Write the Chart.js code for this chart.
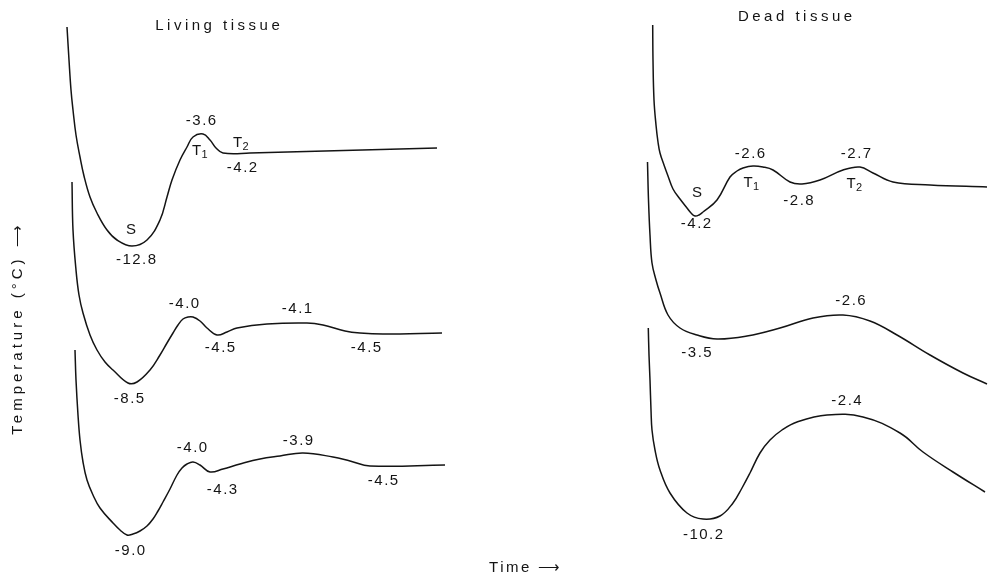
<!DOCTYPE html>
<html>
<head>
<meta charset="utf-8">
<script src="https://cdn.jsdelivr.net/npm/chart.js@4.4.0/dist/chart.umd.min.js"></script>
<style>
  html, body { margin: 0; padding: 0; background: #fff; }
  #wrap { position: relative; width: 988px; height: 577px; }
</style>
</head>
<body>
<div id="wrap"><canvas id="coolingChart"></canvas></div>
<script>
// Cooling curves, living vs dead tissue. Time and level in arbitrary chart units
// (curves are stacked, so the level is only a relative reading).

// Living tissue, top curve
const livingTime1 = [6.7, 6.9, 7.1, 7.3, 7.6, 8.0, 8.4, 9.0, 9.7, 10.7, 11.7, 13.2, 14.7, 16.0, 16.7, 17.2, 18.0, 18.7, 19.3, 20.3, 21.0, 21.6, 22.3, 25.0, 43.7];
const livingLevel1 = [55.0, 51.7, 48.7, 46.7, 44.2, 42.0, 40.1, 38.0, 36.4, 34.7, 33.7, 33.1, 33.7, 35.7, 38.0, 39.7, 41.7, 43.0, 44.0, 44.3, 43.7, 42.9, 42.4, 42.4, 42.9];

// Living tissue, middle curve
const livingTime2 = [7.2, 7.3, 7.6, 7.9, 8.3, 9.0, 9.7, 10.5, 11.3, 12.8, 13.7, 15.0, 16.0, 16.7, 17.3, 17.8, 18.3, 18.8, 19.3, 20.0, 20.7, 21.7, 22.7, 23.7, 26.7, 30.7, 32.3, 34.5, 36.0, 38.3, 44.2];
const livingLevel2 = [39.5, 34.7, 30.7, 28.2, 26.4, 24.2, 22.7, 21.5, 20.7, 19.4, 19.5, 20.7, 22.2, 23.4, 24.4, 25.2, 25.8, 26.0, 26.0, 25.6, 24.9, 24.2, 24.5, 24.9, 25.3, 25.4, 25.2, 24.6, 24.4, 24.3, 24.4];

// Living tissue, bottom curve
const livingTime3 = [7.5, 7.6, 7.8, 8.0, 8.3, 8.7, 9.3, 10.0, 11.3, 12.0, 12.7, 13.3, 14.0, 14.7, 15.3, 15.8, 16.3, 17.0, 17.7, 18.2, 18.7, 19.3, 20.0, 21.0, 22.3, 24.0, 26.0, 28.0, 30.3, 33.3, 35.0, 37.0, 44.5];
const livingLevel3 = [22.7, 19.7, 16.2, 13.7, 11.5, 9.7, 8.2, 6.9, 5.4, 4.7, 4.2, 4.3, 4.6, 5.1, 5.8, 6.6, 7.5, 8.8, 10.2, 10.9, 11.3, 11.5, 11.2, 10.5, 10.8, 11.3, 11.8, 12.1, 12.4, 12.0, 11.6, 11.1, 11.2];

// Dead tissue, top curve
const deadTime1 = [65.27, 65.3, 65.4, 65.6, 65.8, 66.0, 66.4, 66.8, 67.3, 68.0, 68.7, 69.1, 69.5, 69.9, 70.3, 71.7, 73.0, 73.7, 74.3, 75.3, 76.3, 77.3, 79.0, 80.2, 82.0, 84.3, 86.0, 87.3, 89.3, 93.0, 98.7];
const deadLevel1 = [55.2, 51.7, 47.7, 45.2, 43.5, 42.4, 41.2, 40.1, 38.8, 37.8, 36.9, 36.4, 36.1, 36.2, 36.5, 37.7, 40.0, 40.6, 40.9, 41.1, 41.0, 40.7, 39.5, 39.3, 39.7, 40.7, 41.0, 40.4, 39.5, 39.2, 39.0];

// Dead tissue, middle curve
const deadTime2 = [64.75, 64.85, 65.0, 65.2, 65.6, 66.0, 66.8, 68.0, 69.7, 71.7, 74.7, 78.0, 81.3, 84.3, 87.0, 89.7, 93.0, 96.3, 98.7];
const deadLevel2 = [41.5, 37.7, 34.2, 31.4, 29.7, 28.4, 26.2, 24.9, 24.2, 23.8, 24.1, 24.9, 25.9, 26.2, 25.6, 24.2, 22.2, 20.4, 19.3];

// Dead tissue, bottom curve
const deadTime3 = [64.83, 64.9, 65.0, 65.1, 65.2, 65.5, 66.0, 67.0, 68.7, 70.3, 72.0, 73.3, 74.2, 75.0, 76.0, 77.0, 78.2, 79.7, 82.7, 86.3, 90.0, 92.3, 95.3, 98.5];
const deadLevel3 = [24.9, 22.2, 19.7, 16.7, 14.7, 12.7, 10.7, 8.4, 6.4, 5.8, 6.1, 7.4, 8.9, 10.4, 12.4, 13.7, 14.7, 15.5, 16.2, 16.0, 14.4, 12.5, 10.5, 8.5];

// Temperature readings written on the curves ("T_1" = T with subscript 1)
const noteText = ['-3.6', 'T_1', 'T_2', '-4.2', 'S', '-12.8',
  '-8.5', '-4.0', '-4.5', '-4.1', '-4.5',
  '-9.0', '-4.0', '-4.3', '-3.9', '-4.5',
  '-2.6', '-2.7', 'S', 'T_1', '-2.8', 'T_2', '-4.2',
  '-3.5', '-2.6',
  '-2.4', '-10.2'];
const noteTime = [20.1, 19.65, 23.75, 24.2, 13.1, 13.6,
  12.9, 18.4, 22.0, 29.7, 36.6,
  13.0, 19.2, 22.2, 29.8, 38.3,
  75.0, 85.6, 69.7, 74.8, 79.85, 85.1, 69.6,
  69.65, 85.05,
  84.65, 70.3];
const noteLevel = [45.6, 42.65, 43.45, 40.95, 34.75, 31.7,
  17.8, 27.3, 22.9, 26.85, 22.9,
  2.6, 12.95, 8.7, 13.6, 9.6,
  42.35, 42.35, 38.45, 39.4, 37.65, 39.3, 35.3,
  22.45, 27.6,
  17.6, 4.25];

const panelTitles = ['Living tissue', 'Dead tissue'];
const panelTitleTime = [21.75, 79.5];
const panelTitleLevel = [55.1, 56.05];

const FONT = '"Liberation Sans", Arial, Helvetica, sans-serif';
const INK = '#141414';

function toPoints(xs, ys) {
  return xs.map((x, i) => ({ x: x, y: ys[i] }));
}

function curve(xs, ys) {
  return {
    data: toPoints(xs, ys),
    borderColor: INK,
    borderWidth: 1.5,
    pointRadius: 0,
    fill: false,
    tension: 0.4,
  };
}

const notesPlugin = {
  id: 'notes',
  afterDatasetsDraw(chart) {
    const ctx = chart.ctx;
    const sx = chart.scales.x;
    const sy = chart.scales.y;
    ctx.save();
    ctx.fillStyle = INK;
    ctx.textBaseline = 'middle';

    // curve readings
    ctx.font = '15px ' + FONT;
    ctx.letterSpacing = '1.5px';
    noteText.forEach((t, i) => {
      const px = sx.getPixelForValue(noteTime[i]);
      const py = sy.getPixelForValue(noteLevel[i]);
      if (t.indexOf('_') > -1) {
        const parts = t.split('_');
        ctx.letterSpacing = '0px';
        ctx.textAlign = 'center';
        ctx.font = '15px ' + FONT;
        ctx.fillText(parts[0], px, py);
        ctx.textAlign = 'left';
        ctx.font = '11px ' + FONT;
        ctx.fillText(parts[1], px + 5, py + 4);
        ctx.font = '15px ' + FONT;
        ctx.letterSpacing = '1.5px';
      } else {
        ctx.textAlign = 'center';
        ctx.fillText(t, px + 0.75, py);
      }
    });

    // panel titles
    ctx.letterSpacing = '3.5px';
    ctx.textAlign = 'center';
    panelTitles.forEach((t, i) => {
      ctx.fillText(t, sx.getPixelForValue(panelTitleTime[i]) + 1.75, sy.getPixelForValue(panelTitleLevel[i]));
    });

    // axis captions
    ctx.letterSpacing = '2.5px';
    ctx.fillText('Time \u27f6', 526, 568);
    ctx.letterSpacing = '4px';
    ctx.translate(17.5, 328);
    ctx.rotate(-Math.PI / 2);
    ctx.fillText('Temperature (\u00b0C) \u27f6', 0, 0);
    ctx.restore();
  },
};

new Chart(document.getElementById('coolingChart'), {
  type: 'line',
  data: {
    datasets: [
      curve(livingTime1, livingLevel1),
      curve(livingTime2, livingLevel2),
      curve(livingTime3, livingLevel3),
      curve(deadTime1, deadLevel1),
      curve(deadTime2, deadLevel2),
      curve(deadTime3, deadLevel3),
    ],
  },
  options: {
    responsive: true,
    maintainAspectRatio: false,
    animation: false,
    layout: { padding: 0 },
    plugins: {
      legend: { display: false },
      tooltip: { enabled: false },
    },
    scales: {
      x: { type: 'linear', min: 0, max: 98.8, display: false },
      y: { type: 'linear', min: 0, max: 57.7, display: false },
    },
  },
  plugins: [notesPlugin],
});
</script>
</body>
</html>
